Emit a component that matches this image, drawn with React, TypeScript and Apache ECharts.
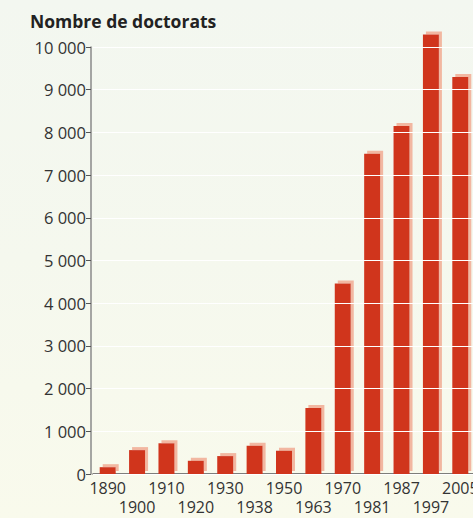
import React, { useEffect, useRef } from "react";
import * as echarts from "echarts";

const years = ["1890", "1900", "1910", "1920", "1930", "1938", "1950", "1963", "1970", "1981", "1987", "1997", "2005"];
const doctorats = [160, 560, 720, 310, 420, 660, 545, 1545, 4460, 7500, 8150, 10290, 9300];
const yTicks = [0, 1000, 2000, 3000, 4000, 5000, 6000, 7000, 8000, 9000, 10000];

const fmt = (v: number) => {
  const s = String(v);
  return s.length > 3 ? s.slice(0, s.length - 3) + " " + s.slice(s.length - 3) : s;
};

export default function App() {
  const ref = useRef<HTMLDivElement>(null);
  useEffect(() => {
    document.body.style.margin = "0";
    const chart = echarts.init(ref.current!, undefined, { renderer: "svg" });
    chart.setOption({
      animation: false,
      textStyle: { fontFamily: "Open Sans" },
      title: {
        text: "Nombre de doctorats",
        left: 25,
        top: 7,
        textStyle: { fontFamily: "Open Sans", fontWeight: "bold", fontSize: 17.5, color: "#222" },
      },
      grid: { left: 93, right: -2, top: 47, bottom: 44, containLabel: false, outerBoundsMode: "none" },
      xAxis: {
        type: "category",
        data: years,
        axisLine: { lineStyle: { color: "#555", width: 1.5 } },
        axisTick: { show: false },
        axisLabel: {
          interval: 0,
          color: "#333",
          fontSize: 16,
          margin: 6.5,
          hideOverlap: false,
          formatter: (v: string, i: number) => (i % 2 === 1 ? "{e|}\n{v|" + v + "}" : "{v|" + v + "}"),
          rich: {
            e: { lineHeight: 19, fontSize: 16 },
            v: { lineHeight: 14, fontSize: 16, color: "#333", fontFamily: "Open Sans" },
          },
        },
      },
      yAxis: {
        type: "value",
        min: 0,
        max: yTicks[yTicks.length - 1],
        interval: 1000,
        offset: 2,
        z: 5,
        axisLine: { show: true, lineStyle: { color: "#8a8a8a", width: 1.5 } },
        axisTick: { show: true, length: 5, lineStyle: { color: "#555" } },
        axisLabel: { color: "#333", fontSize: 16.5, margin: 5, formatter: (v: number) => fmt(v) },
        splitLine: { show: true, lineStyle: { color: "#ffffff", width: 1 } },
      },
      series: [
        {
          type: "bar",
          data: doctorats,
          barWidth: 16,
          clip: false,
          itemStyle: {
            color: "#d0361f",
            shadowColor: "#f2b7a1",
            shadowOffsetX: 3,
            shadowOffsetY: -3,
            shadowBlur: 0,
          },
        },
      ],
    });
    return () => chart.dispose();
  }, []);
  return (
    <div
      style={{
        width: 473,
        height: 518,
        overflow: "hidden",
        background: "linear-gradient(180deg, #f3f7f0 0%, #f5f8ee 50%, #f9faec 100%)",
      }}
    >
      <div ref={ref} style={{ width: 473, height: 518 }} />
    </div>
  );
}
